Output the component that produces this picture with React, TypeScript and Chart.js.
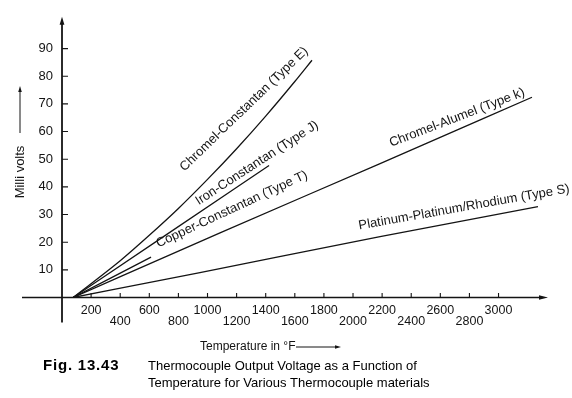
import { useEffect, useRef } from 'react';
import { Chart, registerables } from 'chart.js';

Chart.register(...registerables);

// ---- data ----
const X_TICKS = [200, 400, 600, 800, 1000, 1200, 1400, 1600, 1800, 2000, 2200, 2400, 2600, 2800, 3000];
const Y_TICKS = [10, 20, 30, 40, 50, 60, 70, 80, 90];

const TEMP_E = [76, 400, 600, 800, 1000, 1200, 1400, 1600, 1718];
const MV_E = [0, 13.3, 22.5, 32.2, 42.7, 53.8, 65.6, 78.1, 85.8];
const TEMP_J = [76, 700, 1423];
const MV_J = [0, 22.1, 47.7];
const TEMP_T = [76, 612];
const MV_T = [0, 14.6];
const TEMP_K = [76, 1086, 2186, 3230];
const MV_K = [0, 23.4, 48.4, 72.4];
const TEMP_S = [76, 948, 2186, 3271];
const MV_S = [0, 9.0, 22.0, 32.9];

const SERIES_NAMES = [
  'Chromel-Constantan (Type E)',
  'Iron-Constantan (Type J)',
  'Copper-Constantan (Type T)',
  'Chromel-Alumel (Type k)',
  'Platinum-Platinum/Rhodium (Type S)',
];
const LABEL_TEMP = [1251, 1340, 1168, 2715, 2763];
const LABEL_MV = [68.1, 48.6, 31.9, 65.0, 32.6];
const LABEL_ANGLE = [44, 33, 25, 21, 10];

const X_TITLE = 'Temperature in °F';
const Y_TITLE = 'Milli volts';
const FIG_NO = 'Fig. 13.43';
const CAPTION = [
  'Thermocouple Output Voltage as a Function of',
  'Temperature for Various Thermocouple materials',
];

const FONT = '"Liberation Sans", Arial, Helvetica, sans-serif';
const INK = '#141414';

function arrowHead(ctx: CanvasRenderingContext2D, x: number, y: number, dir: 'up' | 'right', len: number, half: number) {
  ctx.beginPath();
  if (dir === 'up') {
    ctx.moveTo(x, y);
    ctx.lineTo(x - half, y + len);
    ctx.lineTo(x + half, y + len);
  } else {
    ctx.moveTo(x, y);
    ctx.lineTo(x - len, y - half);
    ctx.lineTo(x - len, y + half);
  }
  ctx.closePath();
  ctx.fill();
}

const decorPlugin = {
  id: 'decor',
  afterDraw(chart: any) {
    const ctx: CanvasRenderingContext2D = chart.ctx;
    const xs = chart.scales.x;
    const ys = chart.scales.y;
    const area = chart.chartArea;
    const x0 = xs.getPixelForValue(0);
    const y0 = ys.getPixelForValue(0);
    ctx.save();
    ctx.strokeStyle = INK;
    ctx.fillStyle = INK;

    // y axis
    ctx.lineWidth = 1.8;
    ctx.beginPath();
    ctx.moveTo(x0, y0 + 25);
    ctx.lineTo(x0, area.top + 6);
    ctx.stroke();
    arrowHead(ctx, x0, area.top, 'up', 8, 2.4);

    // x axis
    ctx.lineWidth = 1.4;
    ctx.beginPath();
    ctx.moveTo(x0 - 40, y0);
    ctx.lineTo(area.right - 6, y0);
    ctx.stroke();
    arrowHead(ctx, area.right, y0, 'right', 9, 2.2);

    // tick marks
    ctx.lineWidth = 1.1;
    ctx.beginPath();
    for (const v of Y_TICKS) {
      const p = ys.getPixelForValue(v);
      ctx.moveTo(x0, p);
      ctx.lineTo(x0 + 6, p);
    }
    for (const v of X_TICKS) {
      const p = xs.getPixelForValue(v);
      ctx.moveTo(p, y0);
      ctx.lineTo(p, y0 - 4.5);
    }
    ctx.stroke();

    // line labels
    ctx.font = `13px ${FONT}`;
    ctx.textAlign = 'center';
    ctx.textBaseline = 'middle';
    SERIES_NAMES.forEach((name, i) => {
      const px = xs.getPixelForValue(LABEL_TEMP[i]);
      const py = ys.getPixelForValue(LABEL_MV[i]);
      ctx.save();
      ctx.translate(px, py);
      ctx.rotate((-LABEL_ANGLE[i] * Math.PI) / 180);
      ctx.fillText(name, 0, 0);
      ctx.restore();
    });

    // x title
    ctx.font = `12px ${FONT}`;
    ctx.textAlign = 'left';
    ctx.fillText(X_TITLE, 200, 347);
    ctx.lineWidth = 1;
    ctx.beginPath();
    ctx.moveTo(296, 347);
    ctx.lineTo(336, 347);
    ctx.stroke();
    arrowHead(ctx, 341, 347, 'right', 6, 1.8);

    // y title
    ctx.save();
    ctx.translate(20, 172);
    ctx.rotate(-Math.PI / 2);
    ctx.font = `13px ${FONT}`;
    ctx.textAlign = 'center';
    ctx.fillText(Y_TITLE, 0, 0);
    ctx.restore();
    ctx.beginPath();
    ctx.moveTo(20, 133);
    ctx.lineTo(20, 91);
    ctx.stroke();
    arrowHead(ctx, 20, 86, 'up', 6, 1.8);

    // caption
    ctx.fillStyle = '#000';
    ctx.textAlign = 'left';
    ctx.font = `bold 15px ${FONT}`;
    (ctx as any).letterSpacing = '0.8px';
    ctx.fillText(FIG_NO, 43, 366);
    (ctx as any).letterSpacing = '0px';
    ctx.font = `13px ${FONT}`;
    ctx.fillText(CAPTION[0], 148, 366);
    ctx.fillText(CAPTION[1], 148, 383);
    ctx.restore();
  },
};

export default function App() {
  const ref = useRef<HTMLCanvasElement | null>(null);

  useEffect(() => {
    if (!ref.current) return;
    const series = [
      [TEMP_E, MV_E],
      [TEMP_J, MV_J],
      [TEMP_T, MV_T],
      [TEMP_K, MV_K],
      [TEMP_S, MV_S],
    ];
    const chart = new Chart(ref.current, {
      type: 'scatter',
      data: {
        datasets: series.map(([t, mv], i) => ({
          label: SERIES_NAMES[i],
          data: t.map((v, j) => ({ x: v, y: mv[j] })),
          showLine: true,
          borderColor: INK,
          borderWidth: 1.3,
          pointRadius: 0,
          fill: false,
          cubicInterpolationMode: 'monotone' as const,
        })),
      },
      options: {
        animation: false,
        responsive: false,
        devicePixelRatio: 1,
        layout: { padding: { left: 8, right: 24, top: 9.2, bottom: 60.5 } },
        plugins: { legend: { display: false }, tooltip: { enabled: false }, title: { display: false } },
        scales: {
          x: {
            type: 'linear',
            min: 0,
            max: 3340,
            grid: { display: false, drawTicks: false },
            border: { display: false },
            afterBuildTicks: (scale: any) => {
              scale.ticks = X_TICKS.map((v) => ({ value: v }));
            },
            afterFit: (scale: any) => {
              scale.height = 40;
            },
            ticks: {
              autoSkip: false,
              maxRotation: 0,
              minRotation: 0,
              padding: 7,
              color: INK,
              font: { family: FONT, size: 12.5, lineHeight: 0.92 },
              callback: (v: any, i: number) => (i % 2 === 0 ? [String(v), ''] : ['', String(v)]),
            },
          },
          y: {
            type: 'linear',
            min: 0,
            max: 101.5,
            grid: { display: false, drawTicks: false },
            border: { display: false },
            afterBuildTicks: (scale: any) => {
              scale.ticks = Y_TICKS.map((v) => ({ value: v }));
            },
            afterFit: (scale: any) => {
              scale.width = 54;
            },
            ticks: {
              autoSkip: false,
              padding: 9,
              color: INK,
              font: { family: FONT, size: 13 },
              callback: (v: any) => String(v),
            },
          },
        },
      },
      plugins: [decorPlugin],
    });
    return () => chart.destroy();
  }, []);

  return (
    <div style={{ position: 'fixed', left: 0, top: 0, width: 572, height: 398, background: '#fff' }}>
      <canvas ref={ref} width={572} height={398} style={{ display: 'block' }} />
    </div>
  );
}
